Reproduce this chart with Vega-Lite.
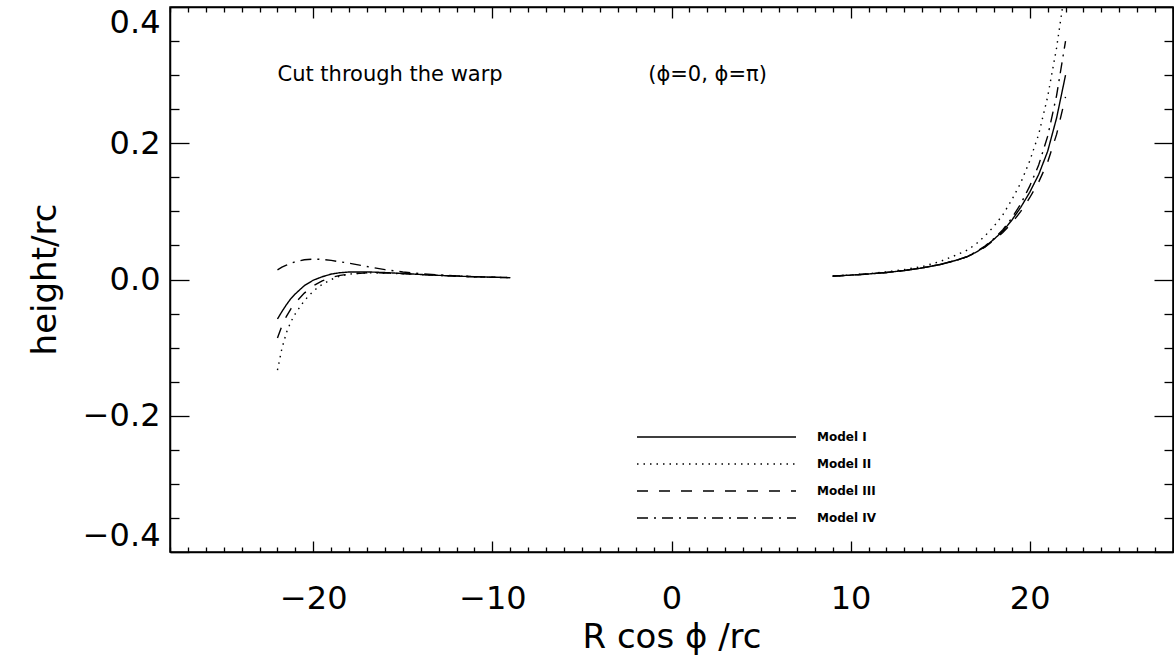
{
  "$schema": "https://vega.github.io/schema/vega-lite/v6.json",
  "width": 1003,
  "height": 545,
  "autosize": "none",
  "padding": {"left": 170, "top": 7, "right": 1, "bottom": 109},
  "background": "white",
  "config": {
    "view": {"stroke": "black", "strokeWidth": 1.5},
    "axis": {"grid": false, "domainColor": "black", "domainWidth": 1.5, "tickColor": "black", "tickWidth": 1.3, "labelColor": "black", "titleColor": "black", "labelFont": "DejaVu Sans", "titleFont": "DejaVu Sans", "titleFontWeight": "normal", "labelFlush": false, "labelOverlap": false, "labelBound": false}
  },
  "datasets": {
    "curves": [
      {"model": "Model I", "branch": "L", "x": -22, "y": -0.058},
      {"model": "Model I", "branch": "L", "x": -21.75, "y": -0.047},
      {"model": "Model I", "branch": "L", "x": -21.5, "y": -0.037},
      {"model": "Model I", "branch": "L", "x": -21.25, "y": -0.028},
      {"model": "Model I", "branch": "L", "x": -21, "y": -0.021},
      {"model": "Model I", "branch": "L", "x": -20.5, "y": -0.009},
      {"model": "Model I", "branch": "L", "x": -20, "y": -0.001},
      {"model": "Model I", "branch": "L", "x": -19.5, "y": 0.004},
      {"model": "Model I", "branch": "L", "x": -19, "y": 0.008},
      {"model": "Model I", "branch": "L", "x": -18.5, "y": 0.010},
      {"model": "Model I", "branch": "L", "x": -18, "y": 0.011},
      {"model": "Model I", "branch": "L", "x": -17, "y": 0.0112},
      {"model": "Model I", "branch": "L", "x": -16, "y": 0.0102},
      {"model": "Model I", "branch": "L", "x": -15, "y": 0.0088},
      {"model": "Model I", "branch": "L", "x": -14, "y": 0.0074},
      {"model": "Model I", "branch": "L", "x": -13, "y": 0.0061},
      {"model": "Model I", "branch": "L", "x": -12, "y": 0.005},
      {"model": "Model I", "branch": "L", "x": -11, "y": 0.0041},
      {"model": "Model I", "branch": "L", "x": -10, "y": 0.0033},
      {"model": "Model I", "branch": "L", "x": -9, "y": 0.0027},
      {"model": "Model II", "branch": "L", "x": -22, "y": -0.133},
      {"model": "Model II", "branch": "L", "x": -21.75, "y": -0.101},
      {"model": "Model II", "branch": "L", "x": -21.5, "y": -0.078},
      {"model": "Model II", "branch": "L", "x": -21.25, "y": -0.062},
      {"model": "Model II", "branch": "L", "x": -21, "y": -0.050},
      {"model": "Model II", "branch": "L", "x": -20.5, "y": -0.031},
      {"model": "Model II", "branch": "L", "x": -20, "y": -0.017},
      {"model": "Model II", "branch": "L", "x": -19.5, "y": -0.007},
      {"model": "Model II", "branch": "L", "x": -19, "y": 0.000},
      {"model": "Model II", "branch": "L", "x": -18.5, "y": 0.005},
      {"model": "Model II", "branch": "L", "x": -18, "y": 0.008},
      {"model": "Model II", "branch": "L", "x": -17, "y": 0.0098},
      {"model": "Model II", "branch": "L", "x": -16, "y": 0.0095},
      {"model": "Model II", "branch": "L", "x": -15, "y": 0.0085},
      {"model": "Model II", "branch": "L", "x": -14, "y": 0.0072},
      {"model": "Model II", "branch": "L", "x": -13, "y": 0.006},
      {"model": "Model II", "branch": "L", "x": -12, "y": 0.0049},
      {"model": "Model II", "branch": "L", "x": -11, "y": 0.004},
      {"model": "Model II", "branch": "L", "x": -10, "y": 0.0033},
      {"model": "Model II", "branch": "L", "x": -9, "y": 0.0027},
      {"model": "Model III", "branch": "L", "x": -22, "y": -0.086},
      {"model": "Model III", "branch": "L", "x": -21.75, "y": -0.068},
      {"model": "Model III", "branch": "L", "x": -21.5, "y": -0.054},
      {"model": "Model III", "branch": "L", "x": -21.25, "y": -0.043},
      {"model": "Model III", "branch": "L", "x": -21, "y": -0.034},
      {"model": "Model III", "branch": "L", "x": -20.5, "y": -0.020},
      {"model": "Model III", "branch": "L", "x": -20, "y": -0.009},
      {"model": "Model III", "branch": "L", "x": -19.5, "y": -0.002},
      {"model": "Model III", "branch": "L", "x": -19, "y": 0.003},
      {"model": "Model III", "branch": "L", "x": -18.5, "y": 0.006},
      {"model": "Model III", "branch": "L", "x": -18, "y": 0.008},
      {"model": "Model III", "branch": "L", "x": -17, "y": 0.0098},
      {"model": "Model III", "branch": "L", "x": -16, "y": 0.0096},
      {"model": "Model III", "branch": "L", "x": -15, "y": 0.0086},
      {"model": "Model III", "branch": "L", "x": -14, "y": 0.0073},
      {"model": "Model III", "branch": "L", "x": -13, "y": 0.006},
      {"model": "Model III", "branch": "L", "x": -12, "y": 0.0049},
      {"model": "Model III", "branch": "L", "x": -11, "y": 0.004},
      {"model": "Model III", "branch": "L", "x": -10, "y": 0.0033},
      {"model": "Model III", "branch": "L", "x": -9, "y": 0.0027},
      {"model": "Model IV", "branch": "L", "x": -22, "y": 0.014},
      {"model": "Model IV", "branch": "L", "x": -21.75, "y": 0.018},
      {"model": "Model IV", "branch": "L", "x": -21.5, "y": 0.021},
      {"model": "Model IV", "branch": "L", "x": -21.25, "y": 0.024},
      {"model": "Model IV", "branch": "L", "x": -21, "y": 0.026},
      {"model": "Model IV", "branch": "L", "x": -20.5, "y": 0.029},
      {"model": "Model IV", "branch": "L", "x": -20, "y": 0.030},
      {"model": "Model IV", "branch": "L", "x": -19.5, "y": 0.0295},
      {"model": "Model IV", "branch": "L", "x": -19, "y": 0.028},
      {"model": "Model IV", "branch": "L", "x": -18.5, "y": 0.026},
      {"model": "Model IV", "branch": "L", "x": -18, "y": 0.024},
      {"model": "Model IV", "branch": "L", "x": -17, "y": 0.019},
      {"model": "Model IV", "branch": "L", "x": -16, "y": 0.0145},
      {"model": "Model IV", "branch": "L", "x": -15, "y": 0.011},
      {"model": "Model IV", "branch": "L", "x": -14, "y": 0.0085},
      {"model": "Model IV", "branch": "L", "x": -13, "y": 0.0067},
      {"model": "Model IV", "branch": "L", "x": -12, "y": 0.0053},
      {"model": "Model IV", "branch": "L", "x": -11, "y": 0.0042},
      {"model": "Model IV", "branch": "L", "x": -10, "y": 0.0034},
      {"model": "Model IV", "branch": "L", "x": -9, "y": 0.0027},
      {"model": "Model I", "branch": "R", "x": 9, "y": 0.005},
      {"model": "Model I", "branch": "R", "x": 10, "y": 0.0064},
      {"model": "Model I", "branch": "R", "x": 11, "y": 0.0081},
      {"model": "Model I", "branch": "R", "x": 12, "y": 0.0103},
      {"model": "Model I", "branch": "R", "x": 13, "y": 0.0132},
      {"model": "Model I", "branch": "R", "x": 14, "y": 0.017},
      {"model": "Model I", "branch": "R", "x": 15, "y": 0.022},
      {"model": "Model I", "branch": "R", "x": 16, "y": 0.029},
      {"model": "Model I", "branch": "R", "x": 16.5, "y": 0.0335},
      {"model": "Model I", "branch": "R", "x": 17, "y": 0.040},
      {"model": "Model I", "branch": "R", "x": 17.5, "y": 0.048},
      {"model": "Model I", "branch": "R", "x": 18, "y": 0.059},
      {"model": "Model I", "branch": "R", "x": 18.5, "y": 0.071},
      {"model": "Model I", "branch": "R", "x": 19, "y": 0.087},
      {"model": "Model I", "branch": "R", "x": 19.5, "y": 0.106},
      {"model": "Model I", "branch": "R", "x": 20, "y": 0.128},
      {"model": "Model I", "branch": "R", "x": 20.5, "y": 0.154},
      {"model": "Model I", "branch": "R", "x": 21, "y": 0.188},
      {"model": "Model I", "branch": "R", "x": 21.5, "y": 0.237},
      {"model": "Model I", "branch": "R", "x": 22, "y": 0.300},
      {"model": "Model II", "branch": "R", "x": 9, "y": 0.005},
      {"model": "Model II", "branch": "R", "x": 10, "y": 0.0066},
      {"model": "Model II", "branch": "R", "x": 11, "y": 0.0086},
      {"model": "Model II", "branch": "R", "x": 12, "y": 0.0112},
      {"model": "Model II", "branch": "R", "x": 13, "y": 0.0146},
      {"model": "Model II", "branch": "R", "x": 14, "y": 0.019},
      {"model": "Model II", "branch": "R", "x": 15, "y": 0.0265},
      {"model": "Model II", "branch": "R", "x": 16, "y": 0.037},
      {"model": "Model II", "branch": "R", "x": 16.5, "y": 0.043},
      {"model": "Model II", "branch": "R", "x": 17, "y": 0.052},
      {"model": "Model II", "branch": "R", "x": 17.5, "y": 0.064},
      {"model": "Model II", "branch": "R", "x": 18, "y": 0.078},
      {"model": "Model II", "branch": "R", "x": 18.5, "y": 0.095},
      {"model": "Model II", "branch": "R", "x": 19, "y": 0.117},
      {"model": "Model II", "branch": "R", "x": 19.5, "y": 0.142},
      {"model": "Model II", "branch": "R", "x": 20, "y": 0.174},
      {"model": "Model II", "branch": "R", "x": 20.5, "y": 0.213},
      {"model": "Model II", "branch": "R", "x": 21, "y": 0.268},
      {"model": "Model II", "branch": "R", "x": 21.5, "y": 0.340},
      {"model": "Model II", "branch": "R", "x": 22, "y": 0.43},
      {"model": "Model III", "branch": "R", "x": 9, "y": 0.005},
      {"model": "Model III", "branch": "R", "x": 10, "y": 0.0064},
      {"model": "Model III", "branch": "R", "x": 11, "y": 0.0081},
      {"model": "Model III", "branch": "R", "x": 12, "y": 0.0103},
      {"model": "Model III", "branch": "R", "x": 13, "y": 0.0132},
      {"model": "Model III", "branch": "R", "x": 14, "y": 0.017},
      {"model": "Model III", "branch": "R", "x": 15, "y": 0.022},
      {"model": "Model III", "branch": "R", "x": 16, "y": 0.029},
      {"model": "Model III", "branch": "R", "x": 16.5, "y": 0.0333},
      {"model": "Model III", "branch": "R", "x": 17, "y": 0.0395},
      {"model": "Model III", "branch": "R", "x": 17.5, "y": 0.0475},
      {"model": "Model III", "branch": "R", "x": 18, "y": 0.058},
      {"model": "Model III", "branch": "R", "x": 18.5, "y": 0.069},
      {"model": "Model III", "branch": "R", "x": 19, "y": 0.083},
      {"model": "Model III", "branch": "R", "x": 19.5, "y": 0.100},
      {"model": "Model III", "branch": "R", "x": 20, "y": 0.120},
      {"model": "Model III", "branch": "R", "x": 20.5, "y": 0.143},
      {"model": "Model III", "branch": "R", "x": 21, "y": 0.172},
      {"model": "Model III", "branch": "R", "x": 21.5, "y": 0.213},
      {"model": "Model III", "branch": "R", "x": 22, "y": 0.268},
      {"model": "Model IV", "branch": "R", "x": 9, "y": 0.005},
      {"model": "Model IV", "branch": "R", "x": 10, "y": 0.0064},
      {"model": "Model IV", "branch": "R", "x": 11, "y": 0.0081},
      {"model": "Model IV", "branch": "R", "x": 12, "y": 0.0103},
      {"model": "Model IV", "branch": "R", "x": 13, "y": 0.0132},
      {"model": "Model IV", "branch": "R", "x": 14, "y": 0.017},
      {"model": "Model IV", "branch": "R", "x": 15, "y": 0.022},
      {"model": "Model IV", "branch": "R", "x": 16, "y": 0.029},
      {"model": "Model IV", "branch": "R", "x": 16.5, "y": 0.0338},
      {"model": "Model IV", "branch": "R", "x": 17, "y": 0.0405},
      {"model": "Model IV", "branch": "R", "x": 17.5, "y": 0.049},
      {"model": "Model IV", "branch": "R", "x": 18, "y": 0.060},
      {"model": "Model IV", "branch": "R", "x": 18.5, "y": 0.073},
      {"model": "Model IV", "branch": "R", "x": 19, "y": 0.090},
      {"model": "Model IV", "branch": "R", "x": 19.5, "y": 0.111},
      {"model": "Model IV", "branch": "R", "x": 20, "y": 0.137},
      {"model": "Model IV", "branch": "R", "x": 20.5, "y": 0.168},
      {"model": "Model IV", "branch": "R", "x": 21, "y": 0.210},
      {"model": "Model IV", "branch": "R", "x": 21.5, "y": 0.270},
      {"model": "Model IV", "branch": "R", "x": 22, "y": 0.350}
    ],
    "notes": [
      {"x": -22, "y": 0.30, "label": "Cut through the warp"},
      {"x": -1.3, "y": 0.30, "label": "(ϕ=0, ϕ=π)"}
    ]
  },
  "layer": [
    {
      "data": {"name": "curves"},
      "mark": {"type": "line", "color": "black", "strokeWidth": 1.4, "clip": true},
      "encoding": {
        "x": {
          "field": "x", "type": "quantitative",
          "scale": {"domain": [-28, 28], "nice": false, "zero": false},
          "axis": {
            "orient": "bottom",
            "values": [-28,-27,-26,-25,-24,-23,-22,-21,-20,-19,-18,-17,-16,-15,-14,-13,-12,-11,-10,-9,-8,-7,-6,-5,-4,-3,-2,-1,0,1,2,3,4,5,6,7,8,9,10,11,12,13,14,15,16,17,18,19,20,21,22,23,24,25,26,27,28],
            "labelExpr": "datum.value % 10 === 0 ? datum.label : ''",
            "tickSize": {"condition": {"test": "datum.value % 10 === 0", "value": -11}, "value": -5},
            "labelFontSize": 32,
            "labelPadding": 42,
            "title": "R cos ϕ /rc",
            "titleFontSize": 34,
            "titleBaseline": "middle",
            "titleY": 85
          }
        },
        "y": {
          "field": "y", "type": "quantitative",
          "scale": {"domain": [-0.4, 0.4], "nice": false, "zero": false},
          "axis": {
            "orient": "left",
            "values": [-0.4,-0.35,-0.3,-0.25,-0.2,-0.15,-0.1,-0.05,0,0.05,0.1,0.15,0.2,0.25,0.3,0.35,0.4],
            "labelExpr": "abs(datum.value*5 - round(datum.value*5)) < 0.001 ? format(datum.value, '.1f') : ''",
            "tickSize": {"condition": {"test": "abs(datum.value*5 - round(datum.value*5)) < 0.001", "value": -19}, "value": -9},
            "labelFontSize": 32,
            "labelPadding": 29,
            "labelFlush": true,
            "labelFlushOffset": 0,
            "title": "height/rc",
            "titleFontSize": 34,
            "titleBaseline": "middle",
            "titleX": -125,
            "titleY": 272
          }
        },
        "strokeDash": {
          "field": "model", "type": "nominal",
          "scale": {"domain": ["Model I", "Model II", "Model III", "Model IV"], "range": [[1, 0], [1.5, 5], [11, 11], [11, 6, 2, 6]]},
          "legend": {
            "orient": "none", "legendX": 466, "legendY": 420, "title": null,
            "symbolType": "stroke", "symbolSize": 25281, "symbolStrokeWidth": 1.4, "symbolStrokeColor": "black",
            "clipHeight": 20,
            "labelFont": "DejaVu Sans", "labelFontSize": 12, "labelFontWeight": "bold", "labelColor": "black",
            "labelOffset": 20, "rowPadding": 7
          }
        },
        "detail": {"field": "branch"}
      }
    },
    {
      "data": {"name": "notes"},
      "mark": {"type": "text", "align": "left", "baseline": "middle", "font": "DejaVu Sans", "fontSize": 21, "color": "black"},
      "encoding": {
        "x": {
          "field": "x", "type": "quantitative",
          "scale": {"domain": [-28, 28], "nice": false, "zero": false},
          "axis": {
            "orient": "top", "labels": false, "title": null,
            "values": [-28,-27,-26,-25,-24,-23,-22,-21,-20,-19,-18,-17,-16,-15,-14,-13,-12,-11,-10,-9,-8,-7,-6,-5,-4,-3,-2,-1,0,1,2,3,4,5,6,7,8,9,10,11,12,13,14,15,16,17,18,19,20,21,22,23,24,25,26,27,28],
            "tickSize": {"condition": {"test": "datum.value % 10 === 0", "value": -11}, "value": -5}
          }
        },
        "y": {
          "field": "y", "type": "quantitative",
          "scale": {"domain": [-0.4, 0.4], "nice": false, "zero": false},
          "axis": {
            "orient": "right", "labels": false, "title": null,
            "values": [-0.4,-0.35,-0.3,-0.25,-0.2,-0.15,-0.1,-0.05,0,0.05,0.1,0.15,0.2,0.25,0.3,0.35,0.4],
            "tickSize": {"condition": {"test": "abs(datum.value*5 - round(datum.value*5)) < 0.001", "value": -19}, "value": -9}
          }
        },
        "text": {"field": "label", "type": "nominal"}
      }
    }
  ],
  "resolve": {"axis": {"x": "independent", "y": "independent"}}
}
